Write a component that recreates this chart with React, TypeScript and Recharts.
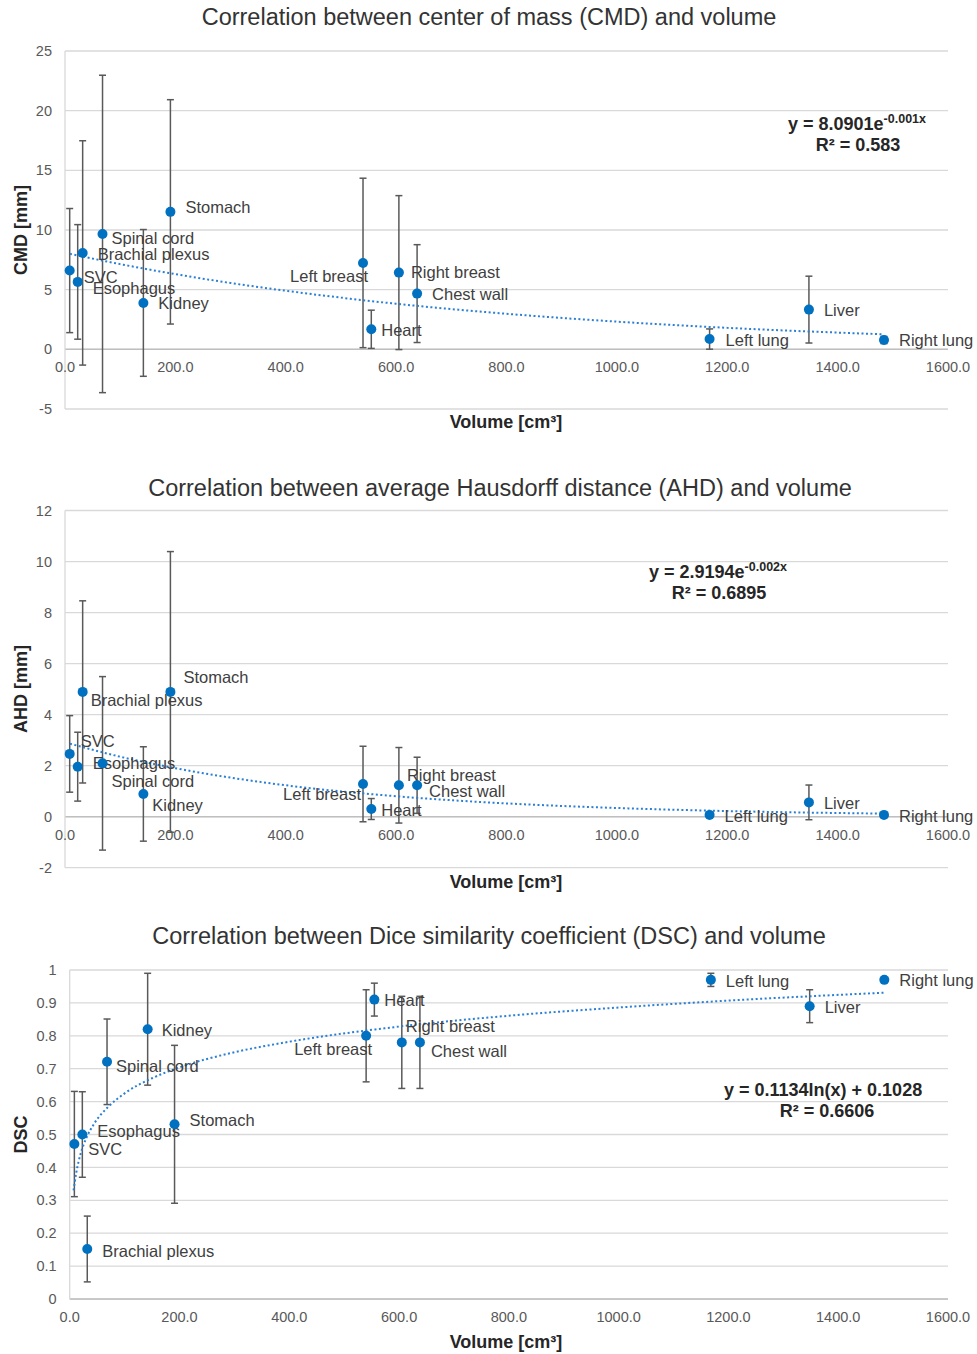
import React from "react";
import {
  ComposedChart,
  Scatter,
  Line,
  XAxis,
  YAxis,
  CartesianGrid,
  ErrorBar,
  ReferenceLine,
} from "recharts";

// organs, in the same order in every array below
const ORGANS = [
  "SVC",
  "Esophagus",
  "Brachial plexus",
  "Spinal cord",
  "Kidney",
  "Stomach",
  "Left breast",
  "Heart",
  "Right breast",
  "Chest wall",
  "Left lung",
  "Liver",
  "Right lung",
];
const VOLUME = [8.5, 23, 32, 68, 142, 191, 540, 555, 605, 638, 1168, 1348, 1484];

const CMD_MEAN = [6.6, 5.65, 8.08, 9.67, 3.89, 11.52, 7.24, 1.68, 6.43, 4.67, 0.86, 3.33, 0.78];
const CMD_SD = [5.2, 4.8, 9.4, 13.3, 6.15, 9.4, 7.1, 1.6, 6.45, 4.1, 0.85, 2.8, 0.3];

const AHD_MEAN = [2.46, 1.96, 4.89, 2.09, 0.89, 4.89, 1.28, 0.3, 1.23, 1.23, 0.07, 0.56, 0.07];
const AHD_SD = [1.5, 1.35, 3.57, 3.4, 1.85, 5.5, 1.48, 0.41, 1.48, 1.1, 0.03, 0.68, 0.03];

const DSC_MEAN = [0.471, 0.5, 0.152, 0.721, 0.82, 0.531, 0.8, 0.91, 0.78, 0.78, 0.97, 0.89, 0.97];
const DSC_SD = [0.16, 0.13, 0.1, 0.13, 0.17, 0.24, 0.14, 0.05, 0.14, 0.14, 0.02, 0.05, 0.005];

// trendlines
const CMD_TREND_X = [9, 100, 200, 300, 400, 600, 800, 1000, 1200, 1484];
const CMD_TREND_Y = [8.0, 7.14, 6.3, 5.56, 4.91, 3.82, 2.98, 2.32, 1.8, 1.26];
const AHD_TREND_X = [9, 100, 200, 300, 400, 600, 800, 1000, 1200, 1484];
const AHD_TREND_Y = [2.86, 2.35, 1.9, 1.53, 1.23, 0.8, 0.52, 0.34, 0.22, 0.12];
const DSC_TREND_X = [7, 12, 20, 30, 45, 70, 100, 150, 200, 300, 400, 600, 800, 1000, 1200, 1484];
const DSC_TREND_Y = [0.33, 0.384, 0.442, 0.488, 0.534, 0.584, 0.625, 0.671, 0.704, 0.75, 0.782, 0.828, 0.861, 0.886, 0.907, 0.931];

const VOLUME_TICKS = [0, 200, 400, 600, 800, 1000, 1200, 1400, 1600];
const CMD_TICKS = [-5, 0, 5, 10, 15, 20, 25];
const AHD_TICKS = [-2, 0, 2, 4, 6, 8, 10, 12];
const DSC_TICKS = [0, 0.1, 0.2, 0.3, 0.4, 0.5, 0.6, 0.7, 0.8, 0.9, 1];

// label placement per organ: [dx, dy, anchor]
type Place = [number, number, "start" | "end"];
const CMD_PLACE: Place[] = [
  [14, 7, "start"], [15, 6, "start"], [15, 1, "start"], [9, 4, "start"], [15, 0, "start"],
  [15, -5, "start"], [5, 13, "end"], [10, 1, "start"], [12, 0, "start"], [15, 1, "start"],
  [16, 1, "start"], [15, 1, "start"], [15, 0, "start"],
];
const AHD_PLACE: Place[] = [
  [11, -13, "start"], [15, -3, "start"], [8, 8, "start"], [9, 18, "start"], [9, 11, "start"],
  [13, -15, "start"], [-2, 10, "end"], [10, 1, "start"], [8, -10, "start"], [12, 6, "start"],
  [15, 1, "start"], [15, 1, "start"], [15, 1, "start"],
];
const DSC_PLACE: Place[] = [
  [14, 5, "start"], [15, -3, "start"], [15, 2, "start"], [9, 4, "start"], [14, 1, "start"],
  [15, -4, "start"], [6, 13, "end"], [10, 1, "start"], [4, -16, "start"], [11, 9, "start"],
  [15, 1, "start"], [15, 1, "start"], [15, 0, "start"],
];

const FONT = '"Liberation Sans", Arial, sans-serif';
const BLUE = "#0070C0";
const TREND = "#2a7fd6";
const XAXIS_H = 30;
const YAXIS_W = 50;

const toPoints = (mean: number[], sd: number[]) =>
  ORGANS.map((name, i) => ({ i, name, x: VOLUME[i], y: mean[i], err: sd[i] }));
const toTrend = (xs: number[], ys: number[]) => xs.map((x, i) => ({ x, y: ys[i] }));

const XTick = (props: any) => {
  const { x, payload, zeroY } = props;
  return (
    <text x={x} y={zeroY + 23} textAnchor="middle" fontSize={14.5} fontFamily={FONT} fill="#595959">
      {Number(payload.value).toFixed(1)}
    </text>
  );
};

type PanelProps = {
  top: number;
  height: number;
  left: number;
  plotTop: number;
  plotBottom: number;
  title: string;
  titleX: number;
  titleY: number;
  yTitle: string;
  yDomain: [number, number];
  yTicks: number[];
  points: any[];
  trend: any[];
  place: Place[];
  eqMain: string;
  eqSup?: string;
  eqX: number;
  eqY: number;
  r2: string;
  r2X: number;
  r2Y: number;
  zeroLine: boolean;
};

const Panel = (p: PanelProps) => {
  const plotH = p.plotBottom - p.plotTop;
  const zeroY = p.plotTop + (plotH * p.yDomain[1]) / (p.yDomain[1] - p.yDomain[0]);
  const plotMid = (p.plotTop + p.plotBottom) / 2;

  const renderPoint = (s: any) => {
    const pl = p.place[s.payload.i];
    return (
      <g>
        <circle cx={s.cx} cy={s.cy} r={5} fill={BLUE} />
        <text
          x={s.cx + pl[0]}
          y={s.cy + pl[1]}
          dy="0.35em"
          textAnchor={pl[2]}
          fontSize={16.5}
          fontFamily={FONT}
          fill="#404040"
        >
          {s.payload.name}
        </text>
      </g>
    );
  };

  return (
    <div style={{ position: "absolute", left: 0, top: p.top, width: 977, height: p.height }}>
      <ComposedChart
        width={977}
        height={p.height}
        style={{ overflow: "visible" }}
        margin={{
          top: p.plotTop,
          right: 29,
          bottom: p.height - p.plotBottom - XAXIS_H,
          left: p.left - YAXIS_W,
        }}
      >
        <CartesianGrid vertical={false} stroke="#d9d9d9" strokeWidth={1.3} />
        <XAxis
          type="number"
          dataKey="x"
          domain={[0, 1600]}
          ticks={VOLUME_TICKS}
          interval={0}
          height={XAXIS_H}
          axisLine={p.zeroLine ? false : { stroke: "#bfbfbf", strokeWidth: 1.5 }}
          tickLine={false}
          tick={<XTick zeroY={zeroY} />}
        />
        <YAxis
          type="number"
          domain={p.yDomain}
          ticks={p.yTicks}
          interval={0}
          width={YAXIS_W}
          axisLine={{ stroke: "#d9d9d9", strokeWidth: 1.3 }}
          tickLine={false}
          tickMargin={7}
          tickFormatter={(v: number) => String(v)}
          tick={{ fill: "#595959", fontSize: 14.5, fontFamily: FONT }}
        />
        {p.zeroLine && <ReferenceLine y={0} stroke="#bfbfbf" strokeWidth={1.5} />}
        <Scatter data={p.points} dataKey="y" shape={renderPoint} isAnimationActive={false} />
        <Scatter data={p.points} dataKey="y" shape={() => <g />} isAnimationActive={false}>
          <ErrorBar dataKey="err" direction="y" width={3.5} stroke="#595959" strokeWidth={1.5} />
        </Scatter>
        <Line
          data={p.trend}
          dataKey="y"
          type="monotone"
          dot={false}
          activeDot={false}
          stroke={TREND}
          strokeWidth={2}
          strokeDasharray="2 2.5"
          isAnimationActive={false}
        />
      </ComposedChart>
      <svg
        width={977}
        height={p.height}
        style={{ position: "absolute", left: 0, top: 0, pointerEvents: "none" }}
      >
        <text x={p.titleX} y={p.titleY} textAnchor="middle" fontSize={23.5} fontFamily={FONT} fill="#333">
          {p.title}
        </text>
        <text
          x={27}
          y={plotMid}
          transform={`rotate(-90 27 ${plotMid})`}
          textAnchor="middle"
          fontSize={18}
          fontWeight="bold"
          fontFamily={FONT}
          fill="#262626"
        >
          {p.yTitle}
        </text>
        <text x={506} y={428} textAnchor="middle" fontSize={18} fontWeight="bold" fontFamily={FONT} fill="#262626">
          Volume [cm³]
        </text>
        <text x={p.eqX} y={p.eqY} fontSize={18} fontWeight="bold" fontFamily={FONT} fill="#262626">
          {p.eqMain}
          {p.eqSup && (
            <tspan fontSize={12.5} dy={-7}>
              {p.eqSup}
            </tspan>
          )}
        </text>
        <text x={p.r2X} y={p.r2Y} textAnchor="middle" fontSize={18} fontWeight="bold" fontFamily={FONT} fill="#262626">
          {p.r2}
        </text>
      </svg>
    </div>
  );
};

export default function App() {
  return (
    <div style={{ position: "absolute", left: 0, top: 0, width: 977, height: 1354, background: "#fff" }}>
      <Panel
        top={0}
        height={440}
        left={65}
        plotTop={51}
        plotBottom={409}
        title="Correlation between center of mass (CMD) and volume"
        titleX={489}
        titleY={25}
        yTitle="CMD [mm]"
        yDomain={[-5, 25]}
        yTicks={CMD_TICKS}
        points={toPoints(CMD_MEAN, CMD_SD)}
        trend={toTrend(CMD_TREND_X, CMD_TREND_Y)}
        place={CMD_PLACE}
        eqMain="y = 8.0901e"
        eqSup="-0.001x"
        eqX={788}
        eqY={130}
        r2="R² = 0.583"
        r2X={858}
        r2Y={151}
        zeroLine
      />
      <Panel
        top={460}
        height={440}
        left={65}
        plotTop={50.5}
        plotBottom={407.7}
        title="Correlation between average Hausdorff distance (AHD) and volume"
        titleX={500}
        titleY={36}
        yTitle="AHD [mm]"
        yDomain={[-2, 12]}
        yTicks={AHD_TICKS}
        points={toPoints(AHD_MEAN, AHD_SD)}
        trend={toTrend(AHD_TREND_X, AHD_TREND_Y)}
        place={AHD_PLACE}
        eqMain="y = 2.9194e"
        eqSup="-0.002x"
        eqX={649}
        eqY={117.7}
        r2="R² = 0.6895"
        r2X={719}
        r2Y={139}
        zeroLine
      />
      <Panel
        top={920}
        height={434}
        left={69.7}
        plotTop={50}
        plotBottom={379}
        title="Correlation between Dice similarity coefficient (DSC) and volume"
        titleX={489}
        titleY={24}
        yTitle="DSC"
        yDomain={[0, 1]}
        yTicks={DSC_TICKS}
        points={toPoints(DSC_MEAN, DSC_SD)}
        trend={toTrend(DSC_TREND_X, DSC_TREND_Y)}
        place={DSC_PLACE}
        eqMain="y = 0.1134ln(x) + 0.1028"
        eqX={724}
        eqY={176}
        r2="R² = 0.6606"
        r2X={827}
        r2Y={196.7}
        zeroLine={false}
      />
    </div>
  );
}
